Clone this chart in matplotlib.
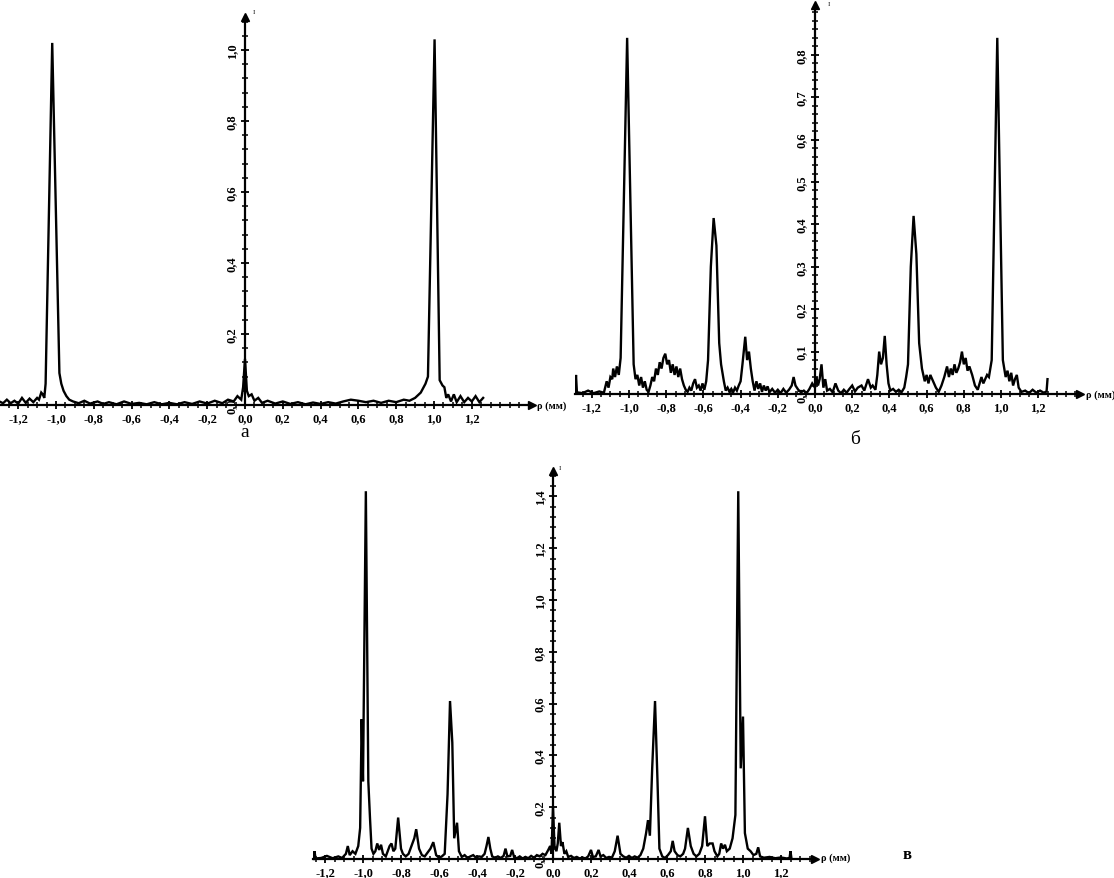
import numpy as np
import matplotlib
matplotlib.use("Agg")
import matplotlib.pyplot as plt
from matplotlib.ticker import MultipleLocator, FuncFormatter

plt.rcParams["font.family"] = ["Liberation Serif", "DejaVu Serif"]

W, H = 1114, 879

# ---- data: rho (mm) vs intensity ----
a_rho = [-1.30, -1.28, -1.26, -1.24, -1.22, -1.20, -1.18, -1.16, -1.14, -1.12, -1.10, -1.09, -1.078, -1.07,
         -1.062, -1.055, -1.02, -0.982, -0.972, -0.96, -0.945, -0.93, -0.91, -0.88, -0.85, -0.82, -0.78, -0.75,
         -0.72, -0.68, -0.64, -0.60, -0.56, -0.52, -0.48, -0.44, -0.40, -0.36, -0.32, -0.28, -0.24, -0.20,
         -0.16, -0.12, -0.09, -0.06, -0.04, -0.02, -0.01, 0.0, 0.01, 0.02, 0.035, 0.05, 0.07, 0.09, 0.12,
         0.16, 0.20, 0.24, 0.28, 0.32, 0.36, 0.40, 0.44, 0.48, 0.52, 0.56, 0.60, 0.64, 0.68, 0.72, 0.76,
         0.80, 0.84, 0.87, 0.90, 0.93, 0.955, 0.968, 1.003, 1.03, 1.045, 1.055, 1.065, 1.075, 1.09, 1.105,
         1.12, 1.14, 1.16, 1.18, 1.20, 1.22, 1.24, 1.26]
a_int = [0.010, 0.005, 0.015, 0.005, 0.012, 0.004, 0.020, 0.006, 0.018, 0.008, 0.020, 0.015, 0.035, 0.030,
         0.020, 0.060, 1.020, 0.090, 0.060, 0.040, 0.025, 0.015, 0.010, 0.005, 0.012, 0.004, 0.010, 0.003,
         0.008, 0.002, 0.010, 0.003, 0.006, 0.002, 0.008, 0.002, 0.006, 0.002, 0.008, 0.003, 0.010, 0.004,
         0.012, 0.005, 0.015, 0.010, 0.025, 0.015, 0.050, 0.130, 0.040, 0.025, 0.030, 0.012, 0.020, 0.006, 0.012,
         0.004, 0.010, 0.003, 0.008, 0.002, 0.007, 0.003, 0.008, 0.004, 0.010, 0.015, 0.012, 0.008, 0.012, 0.006, 0.012,
         0.008, 0.015, 0.012, 0.020, 0.035, 0.060, 0.080, 1.030, 0.070, 0.055, 0.050, 0.020, 0.030, 0.010, 0.030,
         0.008, 0.025, 0.008, 0.020, 0.010, 0.025, 0.008, 0.020]

b_rho = [-1.29, -1.285, -1.28, -1.25, -1.22, -1.19, -1.16, -1.135, -1.12, -1.11, -1.10, -1.09, -1.085, -1.075,
         -1.065, -1.055, -1.045, -1.01, -0.975, -0.965, -0.955, -0.945, -0.935, -0.925, -0.915, -0.905, -0.895,
         -0.885, -0.875, -0.865, -0.855, -0.845, -0.835, -0.825, -0.815, -0.805, -0.795, -0.785, -0.775, -0.765,
         -0.755, -0.745, -0.735, -0.725, -0.715, -0.705, -0.695, -0.685, -0.675, -0.665, -0.655, -0.645, -0.635,
         -0.625, -0.615, -0.605, -0.595, -0.585, -0.575, -0.56, -0.545, -0.53, -0.515, -0.505, -0.49, -0.48,
         -0.47, -0.46, -0.45, -0.44, -0.43, -0.42, -0.41, -0.40, -0.39, -0.375, -0.365, -0.355, -0.345, -0.335,
         -0.325, -0.315, -0.305, -0.295, -0.285, -0.275, -0.265, -0.255, -0.245, -0.23, -0.215, -0.20, -0.185,
         -0.17, -0.155, -0.14, -0.125, -0.115, -0.105, -0.09, -0.075, -0.06, -0.045, -0.03, -0.015,
         0.0, 0.008, 0.016, 0.025, 0.035, 0.045, 0.055, 0.065, 0.08, 0.095, 0.11, 0.125, 0.14, 0.155, 0.17,
         0.185, 0.20, 0.215, 0.23, 0.25, 0.265, 0.285, 0.30, 0.31, 0.325, 0.335, 0.345, 0.355, 0.365, 0.375,
         0.385, 0.395, 0.405, 0.42, 0.435, 0.45, 0.465, 0.48, 0.49, 0.50, 0.515, 0.53, 0.545, 0.56, 0.575,
         0.59, 0.60, 0.61, 0.62, 0.635, 0.65, 0.665, 0.68, 0.695, 0.71, 0.72, 0.73, 0.74, 0.75, 0.76, 0.77,
         0.78, 0.79, 0.80, 0.81, 0.82, 0.83, 0.845, 0.86, 0.875, 0.885, 0.895, 0.905, 0.915, 0.925, 0.935,
         0.95, 0.98, 1.01, 1.025, 1.035, 1.045, 1.055, 1.065, 1.075, 1.085, 1.095, 1.11, 1.13, 1.15, 1.17,
         1.19, 1.21, 1.23, 1.245, 1.25]
b_int = [0.005, 0.045, 0.004, 0.002, 0.008, 0.002, 0.006, 0.003, 0.030, 0.015, 0.040, 0.035, 0.060, 0.040,
         0.065, 0.045, 0.085, 0.840, 0.070, 0.035, 0.045, 0.020, 0.040, 0.015, 0.030, 0.010, 0.005,
         0.020, 0.040, 0.030, 0.060, 0.045, 0.075, 0.060, 0.085, 0.095, 0.070, 0.080, 0.050, 0.070,
         0.045, 0.065, 0.040, 0.060, 0.035, 0.020, 0.010, 0.005, 0.015, 0.008, 0.025, 0.035, 0.015,
         0.020, 0.008, 0.025, 0.010, 0.030, 0.080, 0.300, 0.415, 0.350, 0.120, 0.070, 0.030, 0.008,
         0.015, 0.005, 0.012, 0.004, 0.015, 0.008, 0.020, 0.030, 0.070, 0.135, 0.080, 0.100, 0.060, 0.030,
         0.008, 0.030, 0.012, 0.025, 0.005, 0.020, 0.008, 0.018, 0.004, 0.012, 0.003, 0.010, 0.002,
         0.012, 0.003, 0.010, 0.020, 0.040, 0.020, 0.010, 0.004, 0.008, 0.002, 0.012, 0.025,
         0.015, 0.040, 0.020, 0.035, 0.070, 0.015, 0.035, 0.008, 0.012, 0.004, 0.025, 0.008, 0.002, 0.010, 0.003,
         0.012, 0.020, 0.006, 0.015, 0.020, 0.008, 0.035, 0.015, 0.020, 0.010, 0.045, 0.100, 0.070, 0.085, 0.137,
         0.070, 0.025, 0.008, 0.012, 0.005, 0.010, 0.004, 0.015, 0.040, 0.070, 0.300, 0.420, 0.330, 0.120, 0.060,
         0.030, 0.045, 0.025, 0.045, 0.030, 0.015, 0.005, 0.020, 0.040, 0.065, 0.040, 0.060, 0.045, 0.070, 0.050, 0.060,
         0.075, 0.100, 0.070, 0.085, 0.055, 0.065, 0.045, 0.020, 0.010, 0.025, 0.040, 0.025, 0.035, 0.045, 0.040,
         0.080, 0.840, 0.080, 0.040, 0.055, 0.030, 0.050, 0.020, 0.035, 0.045, 0.015, 0.005, 0.008, 0.002, 0.010,
         0.003, 0.008, 0.003, 0.006, 0.035]

c_rho = [-1.26, -1.255, -1.25, -1.22, -1.19, -1.16, -1.13, -1.11, -1.09, -1.08, -1.07, -1.055, -1.04, -1.025,
         -1.015, -1.007, -1.0, -0.985, -0.972, -0.963, -0.955, -0.945, -0.935, -0.925, -0.915, -0.905, -0.895,
         -0.88, -0.87, -0.86, -0.85, -0.84, -0.83, -0.815, -0.80, -0.79, -0.775, -0.76, -0.745, -0.73, -0.72,
         -0.705, -0.69, -0.675, -0.66, -0.645, -0.63, -0.615, -0.60, -0.585, -0.57, -0.555, -0.542, -0.53,
         -0.52, -0.505, -0.495, -0.48, -0.465, -0.45, -0.435, -0.42, -0.405, -0.39, -0.375, -0.36, -0.35,
         -0.34, -0.33, -0.32, -0.305, -0.29, -0.275, -0.26, -0.25, -0.24, -0.225, -0.215, -0.205, -0.19,
         -0.175, -0.16, -0.145, -0.13, -0.115, -0.10, -0.085, -0.07, -0.055, -0.04, -0.025, -0.015, -0.008,
         0.0, 0.008, 0.018, 0.025, 0.033, 0.042, 0.05, 0.06, 0.07, 0.08, 0.095, 0.11, 0.125, 0.14, 0.155,
         0.17, 0.185, 0.20, 0.21, 0.225, 0.24, 0.25, 0.265, 0.28, 0.295, 0.31, 0.325, 0.34, 0.355, 0.37,
         0.385, 0.40, 0.415, 0.43, 0.445, 0.46, 0.475, 0.49, 0.50, 0.51, 0.522, 0.537, 0.55, 0.56, 0.575,
         0.59, 0.605, 0.62, 0.63, 0.64, 0.655, 0.67, 0.685, 0.695, 0.71, 0.725, 0.74, 0.755, 0.77, 0.785,
         0.80, 0.812, 0.825, 0.84, 0.85, 0.865, 0.875, 0.885, 0.895, 0.905, 0.915, 0.93, 0.945, 0.96, 0.975,
         0.988, 1.0, 1.01, 1.025, 1.04, 1.055, 1.07, 1.08, 1.09, 1.11, 1.14, 1.17, 1.20, 1.23, 1.245, 1.25, 1.255]
c_int = [0.0, 0.030, 0.002, 0.004, 0.012, 0.003, 0.010, 0.004, 0.020, 0.050, 0.015, 0.030, 0.020, 0.050,
         0.120, 0.540, 0.300, 1.420, 0.300, 0.155, 0.040, 0.020, 0.030, 0.060, 0.035, 0.055, 0.020,
         0.010, 0.030, 0.050, 0.060, 0.030, 0.040, 0.160, 0.040, 0.020, 0.010, 0.020, 0.050, 0.080, 0.115,
         0.040, 0.015, 0.010, 0.025, 0.040, 0.065, 0.015, 0.005, 0.010, 0.020, 0.250, 0.610, 0.450,
         0.080, 0.140, 0.030, 0.008, 0.015, 0.004, 0.010, 0.015, 0.005, 0.010, 0.008, 0.020, 0.050,
         0.085, 0.040, 0.010, 0.005, 0.010, 0.004, 0.012, 0.040, 0.010, 0.012, 0.035, 0.008, 0.003,
         0.010, 0.002, 0.008, 0.003, 0.012, 0.005, 0.015, 0.010, 0.020, 0.015, 0.035, 0.050, 0.020,
         0.200, 0.050, 0.030, 0.060, 0.140, 0.050, 0.065, 0.020, 0.030, 0.008, 0.012, 0.004, 0.008, 0.002, 0.006,
         0.002, 0.010, 0.035, 0.008, 0.010, 0.035, 0.010, 0.015, 0.004, 0.008, 0.005, 0.030, 0.090, 0.020, 0.010,
         0.005, 0.012, 0.004, 0.010, 0.005, 0.015, 0.040, 0.100, 0.150, 0.090, 0.350, 0.610, 0.300, 0.040, 0.010,
         0.004, 0.015, 0.030, 0.070, 0.030, 0.015, 0.010, 0.020, 0.040, 0.120, 0.050, 0.020, 0.010, 0.020, 0.050,
         0.165, 0.050, 0.060, 0.060, 0.030, 0.010, 0.020, 0.060, 0.040, 0.055, 0.030, 0.040, 0.080, 0.170, 1.420,
         0.350, 0.550, 0.100, 0.040, 0.030, 0.015, 0.020, 0.045, 0.010, 0.005, 0.008, 0.003, 0.006, 0.002, 0.004,
         0.030, 0.002]

a_yticks = [0.0, 0.2, 0.4, 0.6, 0.8, 1.0]
b_yticks = [0.0, 0.1, 0.2, 0.3, 0.4, 0.5, 0.6, 0.7, 0.8]
c_yticks = [0.0, 0.2, 0.4, 0.6, 0.8, 1.0, 1.2, 1.4]
xticks = [-1.2, -1.0, -0.8, -0.6, -0.4, -0.2, 0.0, 0.2, 0.4, 0.6, 0.8, 1.0, 1.2]

fig = plt.figure(figsize=(W / 100, H / 100), dpi=100)
comma = FuncFormatter(lambda v, p: ("%.1f" % (0.0 if abs(v) < 1e-9 else v)).replace(".", ","))


def panel(left, right, top, bottom, x0, y0, sx, sy, rho, inten, yticks, ymin):
    # box in pixels, origin (x0, y0) in pixels, sx/sy = pixels per unit
    ax = fig.add_axes([left / W, 1 - bottom / H, (right - left) / W, (bottom - top) / H])
    ax.set_xlim((left - x0) / sx, (right - x0) / sx)
    ax.set_ylim((y0 - bottom) / sy, (y0 - top) / sy)
    ax.patch.set_alpha(0)
    ax.plot(rho, inten, color="k", lw=1.7, solid_joinstyle="miter")
    for s in ("top", "right"):
        ax.spines[s].set_visible(False)
    ax.spines["left"].set_position(("data", 0))
    ax.spines["bottom"].set_position(("data", 0))
    ax.spines["left"].set_bounds(0, (y0 - top) / sy)
    for s in ("left", "bottom"):
        ax.spines[s].set_linewidth(1.6)
    ax.set_xticks(xticks)
    ax.set_yticks(yticks)
    ax.xaxis.set_minor_locator(MultipleLocator(0.05))
    ax.yaxis.set_minor_locator(MultipleLocator(ymin))
    ax.xaxis.set_major_formatter(comma)
    ax.yaxis.set_major_formatter(comma)
    ax.tick_params(which="major", direction="inout", length=6, width=1.3, labelsize=9, pad=2)
    ax.tick_params(which="minor", direction="inout", length=4, width=1.1)
    ax.tick_params(axis="y", labelrotation=90)
    for t in ax.get_xticklabels() + ax.get_yticklabels():
        t.set_fontweight("bold")
    for t in ax.get_yticklabels():
        t.set_va("center")
    ax.plot(1, 0, ">k", ms=6, transform=ax.get_yaxis_transform(), clip_on=False)
    ax.plot(0, 1, "^k", ms=6, transform=ax.get_xaxis_transform(), clip_on=False)
    return ax


panel(0, 532, 18, 410, 245, 406, 189, 355, a_rho, a_int, a_yticks, 0.04)
panel(575, 1080, 6, 399, 815, 395, 186, 424, b_rho, b_int, b_yticks, 0.02)
panel(313, 815, 472, 864, 553, 860, 190, 259, c_rho, c_int, c_yticks, 0.04)

# axis names and panel letters
fig.text(537 / W, 1 - 406 / H, "ρ (мм)", fontsize=7.5, va="center", ha="left", weight="bold")
fig.text(1086 / W, 1 - 395 / H, "ρ (мм)", fontsize=7.5, va="center", ha="left", weight="bold")
fig.text(821 / W, 1 - 858 / H, "ρ (мм)", fontsize=7.5, va="center", ha="left", weight="bold")
for xp, yp in [(254, 12), (829, 5), (560, 468)]:
    fig.text(xp / W, 1 - yp / H, "I", fontsize=5, ha="center", va="center")
fig.text(245 / W, 1 - 433 / H, "а", fontsize=14, ha="center", va="center")
fig.text(855 / W, 1 - 440 / H, "б", fontsize=14, ha="center", va="center")
fig.text(907 / W, 1 - 855 / H, "в", fontsize=12, ha="center", va="center", weight="bold")

fig.savefig("out.png", dpi=100)
